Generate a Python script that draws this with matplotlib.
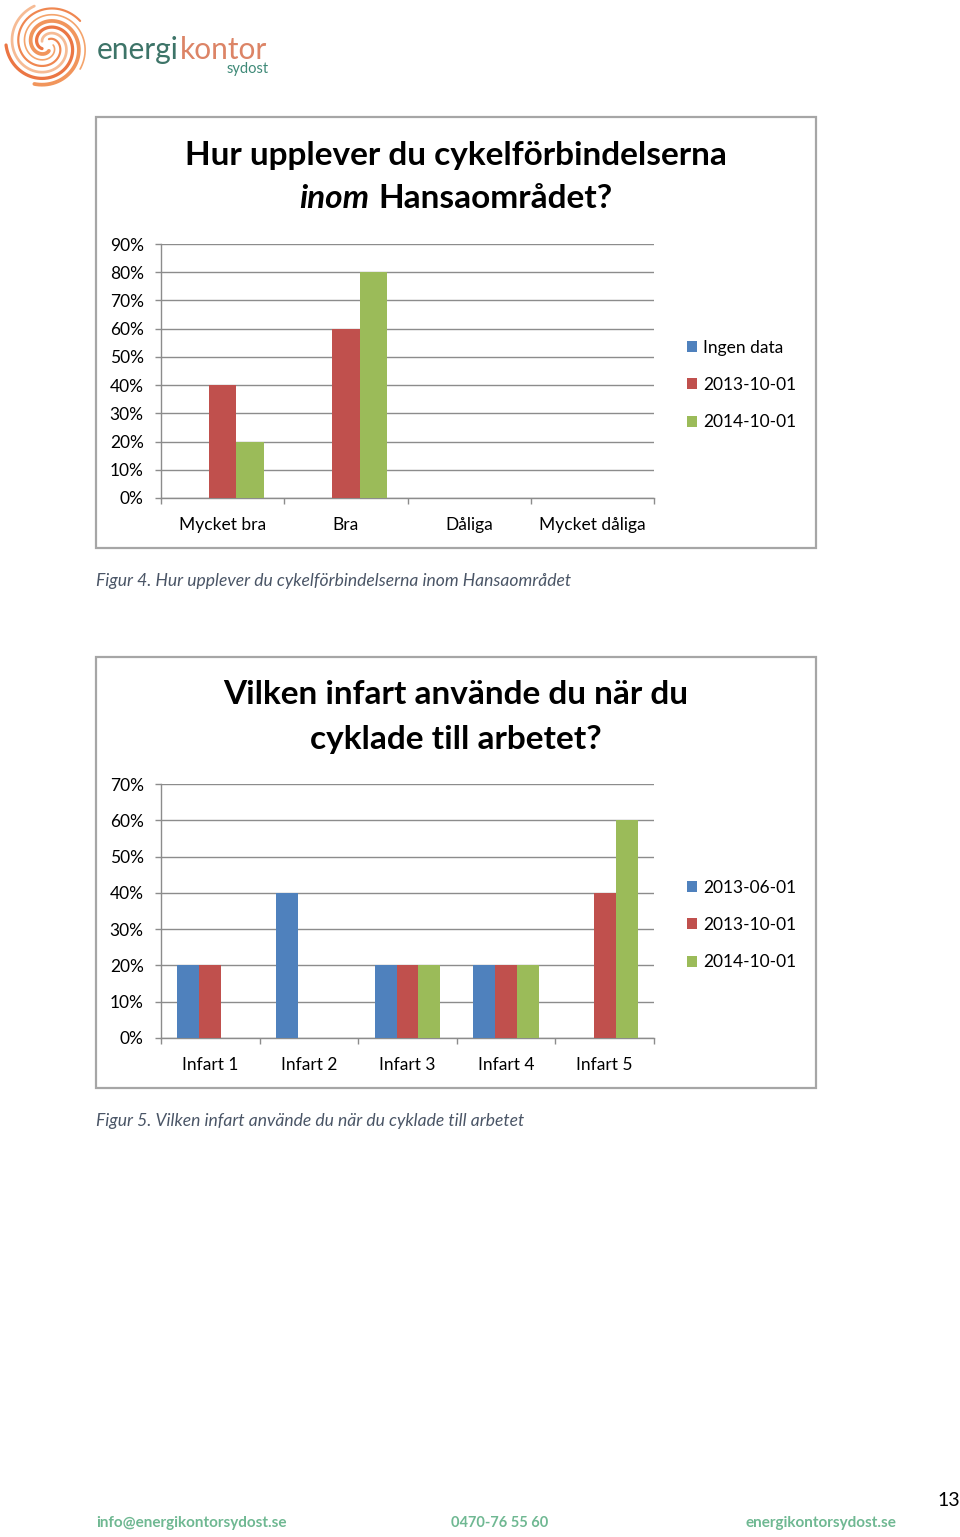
import numpy as np
import matplotlib
matplotlib.use("Agg")
import matplotlib.pyplot as plt
from matplotlib.patches import Rectangle

plt.rcParams['font.family'] = ['Lato', 'DejaVu Sans']

W, H = 960, 1537
fig = plt.figure(figsize=(W / 100, H / 100), dpi=100)
fig.patch.set_facecolor('white')
renderer = fig.canvas.get_renderer()

def fx(x):
    return x / W

def fy(y):
    return 1 - y / H

def rect(x0, y0, x1, y1):
    return [fx(x0), fy(y1), (x1 - x0) / W, (y1 - y0) / H]

def text_width(t):
    return t.get_window_extent(renderer=renderer).width

# ---------------- data ----------------
c1_categories = ["Mycket bra", "Bra", "Dåliga", "Mycket dåliga"]
c1_series = ["Ingen data", "2013-10-01", "2014-10-01"]
c1_ingen = [0.0, 0.0, 0.0, 0.0]
c1_2013 = [0.40, 0.60, 0.0, 0.0]
c1_2014 = [0.20, 0.80, 0.0, 0.0]
c1_ticks = [0.0, 0.1, 0.2, 0.3, 0.4, 0.5, 0.6, 0.7, 0.8, 0.9]

c2_categories = ["Infart 1", "Infart 2", "Infart 3", "Infart 4", "Infart 5"]
c2_series = ["2013-06-01", "2013-10-01", "2014-10-01"]
c2_2013_06 = [0.20, 0.40, 0.20, 0.20, 0.0]
c2_2013_10 = [0.20, 0.0, 0.20, 0.20, 0.40]
c2_2014_10 = [0.0, 0.0, 0.20, 0.20, 0.60]
c2_ticks = [0.0, 0.1, 0.2, 0.3, 0.4, 0.5, 0.6, 0.7]

colors = ["#4F81BD", "#C0504D", "#9BBB59"]
grid_c = "#8c8c8c"
frame_c = "#a6a6a6"


def draw_chart(rect_px, cats, series_vals, series_names, ticks, legend_y):
    ax = fig.add_axes(rect(*rect_px))
    n = len(cats)
    x = np.arange(n)
    w = 1 / 4.5
    for i, (vals, name) in enumerate(zip(series_vals, series_names)):
        ax.bar(x + (i - 1) * w, vals, width=w, color=colors[i], label=name, zorder=3)
    ax.set_xlim(-0.5, n - 0.5)
    ax.set_ylim(0, ticks[-1])
    ax.set_yticks(ticks)
    ax.set_yticklabels([f"{int(round(t * 100))}%" for t in ticks])
    ax.set_xticks(x)
    ax.set_xticklabels(cats)
    ax.set_xticks(np.arange(n + 1) - 0.5, minor=True)
    ax.tick_params(axis='x', which='major', length=0, pad=14, labelsize=12.5)
    ax.tick_params(axis='x', which='minor', length=4.5, width=1, color=grid_c, direction='out')
    ax.tick_params(axis='y', length=4.5, width=1, color=grid_c, direction='out', pad=8, labelsize=12.5)
    ax.yaxis.grid(True, color=grid_c, linewidth=1, zorder=0)
    ax.set_axisbelow(True)
    for s in ['top', 'right']:
        ax.spines[s].set_visible(False)
    for s in ['left', 'bottom']:
        ax.spines[s].set_color(grid_c)
        ax.spines[s].set_linewidth(1)
    handles, labels = ax.get_legend_handles_labels()
    fig.legend(handles, labels, loc='center left',
               bbox_to_anchor=(fx(680), fy(legend_y)), frameon=False,
               fontsize=12.5, handlelength=0.6, handleheight=0.6,
               handletextpad=0.35, labelspacing=1.22, borderaxespad=0)
    return ax


# frames
for (x0, y0, x1, y1) in [(96, 117, 816, 548), (96, 657, 816, 1088)]:
    fig.patches.append(Rectangle((fx(x0), fy(y1)), (x1 - x0) / W, (y1 - y0) / H,
                                 transform=fig.transFigure, fill=False,
                                 edgecolor=frame_c, linewidth=1.6))

draw_chart((161, 244, 654, 498), c1_categories, [c1_ingen, c1_2013, c1_2014],
           c1_series, c1_ticks, 385)
draw_chart((161, 784, 654, 1038), c2_categories, [c2_2013_06, c2_2013_10, c2_2014_10],
           c2_series, c2_ticks, 925)

# titles
tsize = 24
fig.text(fx(456), fy(155), "Hur upplever du cykelförbindelserna", ha='center', va='center',
         fontsize=tsize, fontweight='bold')
t_inom = fig.text(0, fy(198), "inom", ha='left', va='center', fontsize=tsize,
                  fontweight='bold', fontstyle='italic')
t_hansa = fig.text(0, fy(198), "Hansaområdet?", ha='left', va='center', fontsize=tsize,
                   fontweight='bold')
w1, w2, gap = text_width(t_inom), text_width(t_hansa), 9
start = 456 - (w1 + gap + w2) / 2
t_inom.set_x(fx(start))
t_hansa.set_x(fx(start + w1 + gap))
fig.text(fx(456), fy(695), "Vilken infart använde du när du", ha='center', va='center',
         fontsize=tsize, fontweight='bold')
fig.text(fx(456), fy(739), "cyklade till arbetet?", ha='center', va='center',
         fontsize=tsize, fontweight='bold')

# captions
cap_c = "#4a5566"
fig.text(fx(96), fy(581), "Figur 4. Hur upplever du cykelförbindelserna inom Hansaområdet",
         ha='left', va='center', fontsize=12.6, fontstyle='italic', color=cap_c)
fig.text(fx(96), fy(1121), "Figur 5. Vilken infart använde du när du cyklade till arbetet",
         ha='left', va='center', fontsize=12.6, fontstyle='italic', color=cap_c)

# footer
foot_c = "#6fb892"
fig.text(fx(96), fy(1523), "info@energikontorsydost.se", ha='left', va='center',
         fontsize=11, fontweight='bold', color=foot_c)
fig.text(fx(451), fy(1523), "0470-76 55 60", ha='left', va='center',
         fontsize=10.5, fontweight='bold', color=foot_c)
fig.text(fx(896), fy(1523), "energikontorsydost.se", ha='right', va='center',
         fontsize=11, fontweight='bold', color=foot_c)
fig.text(fx(960), fy(1500), "13", ha='right', va='center', fontsize=14, color='black')

# logo
lax = fig.add_axes(rect(2, 2, 92, 88))
lax.set_xlim(-1.05, 1.05)
lax.set_ylim(-1.05, 1.05)
lax.set_aspect('equal')
lax.axis('off')
t = np.linspace(0, 2.2 * np.pi, 300)
spiral_cols = ["#f39a5c", "#ee7a3e", "#f5b48a", "#e9672f", "#f08a4a"]
for k in range(5):
    r = 0.15 + 0.85 * t / t[-1]
    ang = -t + k * 2 * np.pi / 5
    lax.plot(r * np.cos(ang), r * np.sin(ang), color=spiral_cols[k],
             linewidth=1.2 + 1.5 * k / 4, solid_capstyle='round', alpha=0.9)

t_en = fig.text(fx(97), fy(50), "energi", ha='left', va='center', fontsize=21.5,
                fontweight='normal', color="#3d7468")
t_ko = fig.text(0, fy(50), "kontor", ha='left', va='center', fontsize=21.5,
                fontweight='normal', color="#dc8466")
t_ko.set_x(fx(97 + text_width(t_en) + 1))
fig.text(fx(269), fy(69), "sydost", ha='right', va='center', fontsize=10.5,
         color="#3f8a78")

fig.savefig("out.png", dpi=100, facecolor='white')
